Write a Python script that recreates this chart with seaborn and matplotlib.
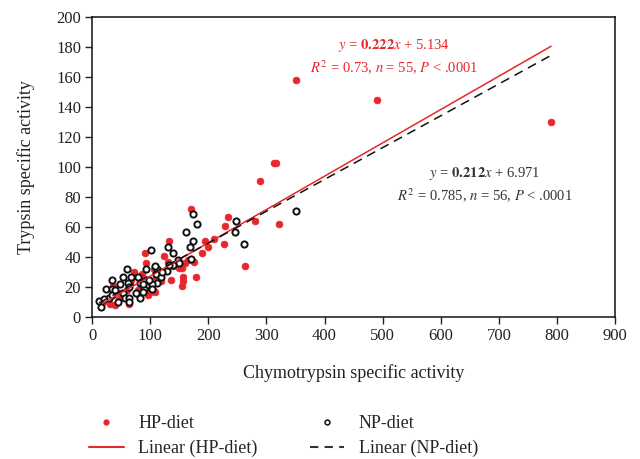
import numpy as np
import pandas as pd
import matplotlib
matplotlib.use("Agg")
import matplotlib.pyplot as plt
from matplotlib.lines import Line2D
import seaborn as sns

# ---- data ----
hp_x = [790, 490, 351, 313, 317, 289, 170, 234, 229, 280, 322, 210, 195, 133, 227,
        189, 124, 263, 155, 157, 178, 136, 157, 155, 100, 108, 119, 131, 91, 93,
        72, 86, 107, 67, 36, 50, 79, 80, 96, 104, 64, 40, 31, 18, 46,
        150, 160, 175, 200, 120, 60, 25, 140, 165, 110]
hp_y = [130, 145, 158, 103, 103, 91, 72, 67, 61, 64, 62, 52, 51, 51, 49,
        43, 41, 34, 33, 27, 27, 25, 24, 21, 17, 17, 24, 37, 43, 36,
        30, 29, 32, 25, 21, 16, 18, 15, 15, 18, 9, 8, 9, 10, 12,
        33, 36, 37, 47, 30, 18, 12, 34, 38, 27]

np_x = [351, 174, 180, 248, 246, 261, 162, 174, 168, 131, 139, 170, 102, 148, 150,
        139, 129, 112, 110, 119, 112, 103, 93, 60, 53, 34, 24, 34, 48, 67,
        62, 79, 64, 83, 93, 90, 88, 103, 53, 57, 64, 64, 83, 12, 15, 29,
        34, 40, 75, 98, 20, 120, 45, 108, 133, 88]
np_y = [71, 69, 62, 64, 57, 49, 57, 51, 47, 47, 43, 39, 45, 38, 36,
        35, 31, 32, 29, 27, 23, 22, 32, 32, 27, 25, 19, 19, 22, 27,
        23, 27, 20, 23, 21, 19, 17, 19, 16, 13, 13, 10, 13, 11, 7, 13,
        15, 18, 16, 25, 12, 30, 10, 34, 35, 22]

hp_slope, hp_icpt = 0.222, 5.134
np_slope, np_icpt = 0.212, 6.971

RED = "#e8262b"
BLACK = "#111111"

df = pd.DataFrame({
    "x": hp_x + np_x,
    "y": hp_y + np_y,
    "diet": ["HP-diet"] * len(hp_x) + ["NP-diet"] * len(np_x),
})

sns.set_theme(style="ticks")
plt.rcParams["font.family"] = ["Liberation Serif", "DejaVu Serif"]
plt.rcParams["mathtext.fontset"] = "stix"

fig = plt.figure(figsize=(6.4, 4.59), dpi=100)
ax = fig.add_axes([0.144, 0.309, 0.817, 0.654])

sns.scatterplot(data=df[df.diet == "HP-diet"], x="x", y="y", ax=ax,
                color=RED, edgecolor=RED, s=24, linewidth=0.5, legend=False, zorder=3)
sns.scatterplot(data=df[df.diet == "NP-diet"], x="x", y="y", ax=ax,
                facecolor="white", edgecolor=BLACK, s=20, linewidth=1.4,
                legend=False, zorder=4)

xs_hp = np.array([min(hp_x), 790])
xs_np = np.array([min(np_x), 790])
ax.plot(xs_hp, hp_slope * xs_hp + hp_icpt, color=RED, lw=1.1, zorder=5)
ax.plot(xs_np, np_slope * xs_np + np_icpt, color=BLACK, lw=1.1,
        dashes=(6, 4), zorder=5)

ax.set_xlim(0, 900)
ax.set_ylim(0, 200)
ax.set_xticks(range(0, 901, 100))
ax.set_yticks(range(0, 201, 20))
ax.tick_params(axis="both", direction="out", length=5, width=1,
               labelsize=12, colors="#222222", pad=3)
for sp in ax.spines.values():
    sp.set_visible(True)
    sp.set_linewidth(1.1)
    sp.set_color("#111111")

ax.set_xlabel("Chymotrypsin specific activity", fontsize=13, color="#222222", labelpad=14)
ax.set_ylabel("Trypsin specific activity", fontsize=13, color="#222222", labelpad=15)

# annotations
fs = 10.5
ax.text(520, 181, r"$y$ = $\mathbf{0.222}x$ + 5.134", color=RED, fontsize=fs,
        ha="center", va="center")
ax.text(520, 166, r"$R^2$ = 0.73, $n$ = 55, $P$ < .0001", color=RED, fontsize=fs,
        ha="center", va="center")
ax.text(676, 96, r"$y$ = $\mathbf{0.212}x$ + 6.971", color="#333333", fontsize=fs,
        ha="center", va="center")
ax.text(676, 81, r"$R^2$ = 0.785, $n$ = 56, $P$ < .0001", color="#333333", fontsize=fs,
        ha="center", va="center")

handles = [
    Line2D([], [], ls="none", marker="o", ms=3.5, color=RED, mec=RED),
    Line2D([], [], color=RED, lw=1.5),
    Line2D([], [], ls="none", marker="o", ms=3.5, mfc="white", mec=BLACK, mew=1.1),
    Line2D([], [], color="#333333", lw=1.5, dashes=(4, 3)),
]
labels = ["HP-diet", "Linear (HP-diet)", "NP-diet", "Linear (NP-diet)"]
fig.legend(handles, labels, ncol=2, loc="center", bbox_to_anchor=(0.443, 0.05),
           frameon=False, fontsize=13, handlelength=1.9, columnspacing=2.9,
           labelspacing=0.45, handletextpad=0.8)

fig.savefig("out.png", dpi=100)
